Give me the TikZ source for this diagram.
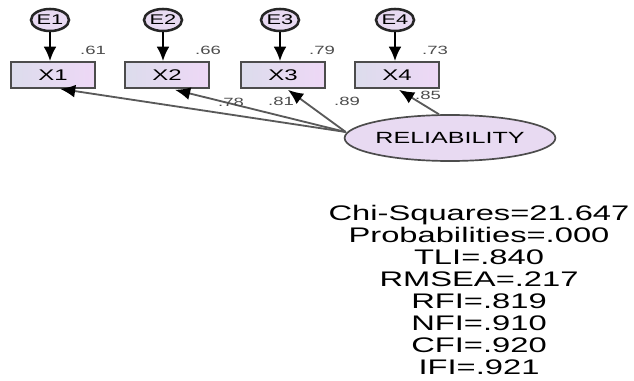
\documentclass[tikz,border=0pt]{standalone}
\usepackage{fontspec}
\setmainfont[FakeStretch=1.55]{Liberation Sans}
\usetikzlibrary{arrows.meta,shapes.geometric,calc}
\definecolor{boxleft}{HTML}{DCDCEC}
\definecolor{boxright}{HTML}{EED8F6}
\definecolor{ovalfill}{HTML}{E8DAF2}
\tikzset{
  obsbox/.style={draw=black!70, line width=1.2pt, left color=boxleft, right color=boxright,
    minimum width=2.1cm, minimum height=0.65cm, inner sep=0pt, font=\fontsize{11}{11}\selectfont},
  errov/.style={ellipse, draw=black!85, line width=1.8pt, fill=ovalfill,
    minimum width=0.95cm, minimum height=0.55cm, inner sep=0pt, font=\fontsize{10}{10}\selectfont},
  latov/.style={ellipse, draw=black!70, line width=1.2pt, fill=ovalfill,
    minimum width=3.9cm, minimum height=1.15cm, inner sep=0pt, font=\fontsize{11.5}{11.5}\selectfont},
  path/.style={line width=1.6pt, -{Latex[length=0.36cm,width=0.32cm]}},
  loadpath/.style={line width=1.3pt, draw=black!65, -{Latex[length=0.38cm,width=0.32cm,fill=black,color=black]}},
  est/.style={font=\fontsize{8.5}{8.5}\selectfont, text=black!70}
}
\begin{document}
\begin{tikzpicture}[x=0.025cm,y=-0.025cm]
  \useasboundingbox (0,0) rectangle (634,381);
  % observed variables
  \node[obsbox] (x1) at (53,75) {X1};
  \node[obsbox] (x2) at (167,75) {X2};
  \node[obsbox] (x3) at (283,75) {X3};
  \node[obsbox] (x4) at (397,75) {X4};
  % error terms
  \node[errov] (e1) at (50,20) {E1};
  \node[errov] (e2) at (163,20) {E2};
  \node[errov] (e3) at (280,20) {E3};
  \node[errov] (e4) at (395,20) {E4};
  \draw[path] (e1) -- (e1 |- x1.north);
  \draw[path] (e2) -- (e2 |- x2.north);
  \draw[path] (e3) -- (e3 |- x3.north);
  \draw[path] (e4) -- (e4 |- x4.north);
  % squared multiple correlations
  \node[est] (r1) at (93,50) {.61};
  \node[est] (r2) at (208,50) {.66};
  \node[est] (r3) at (322,50) {.79};
  \node[est] (r4) at (435,50) {.73};
  % latent factor
  \node[latov] (rel) at (450,138) {RELIABILITY};
  \coordinate (src) at ($(rel.west)+(2,-6)$);
  \draw[loadpath] (src) -- ($(x1.south)+(7,0)$);
  \draw[loadpath] (src) -- ($(x2.south)+(8,1)$);
  \draw[loadpath] (src) -- ($(x3.south)+(5,1)$);
  \draw[loadpath] (rel.115) -- ($(x4.south)+(2,1)$);
  % loadings
  \node[est] (l1) at (231,102) {.78};
  \node[est] (l2) at (281,101) {.81};
  \node[est] (l3) at (347,101) {.89};
  \node[est] (l4) at (428,95) {.85};
  % fit indices
  \node[align=center, font=\fontsize{15}{15.7}\selectfont, inner sep=0pt] (fit) at (479,290)
    {Chi-Squares=21.647\\Probabilities=.000\\TLI=.840\\RMSEA=.217\\RFI=.819\\NFI=.910\\CFI=.920\\IFI=.921};
\end{tikzpicture}
\end{document}
